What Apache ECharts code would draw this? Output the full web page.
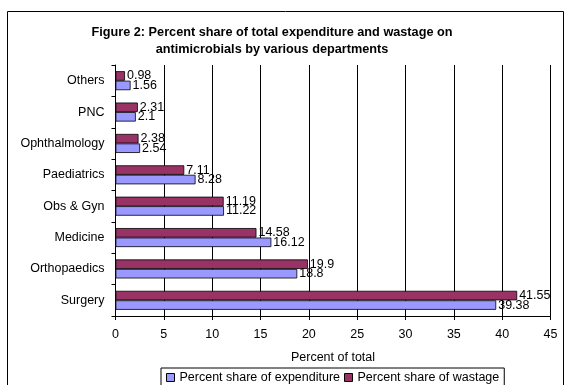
<!DOCTYPE html>
<html><head><meta charset="utf-8">
<script src="https://cdn.jsdelivr.net/npm/echarts@6/dist/echarts.min.js"></script>
<style>html,body{margin:0;padding:0;background:#fff}#c{width:566px;height:385px}</style>
</head><body><div id="c"></div>
<script>
const categories = ["Surgery","Orthopaedics","Medicine","Obs & Gyn","Paediatrics","Ophthalmology","PNC","Others"];
const expenditure = [39.38,18.8,16.12,11.22,8.28,2.54,2.1,1.56];
const wastage = [41.55,19.9,14.58,11.19,7.11,2.38,2.31,0.98];
const seriesNames = ["Percent share of expenditure","Percent share of wastage"];
const titleText = "Figure 2: Percent share of total expenditure and wastage on\nantimicrobials by various departments";
const xName = "Percent of total";

const chart = echarts.init(document.getElementById('c'), null, {renderer:'canvas'});
const font = 'Arial, "Liberation Sans", sans-serif';
const fs = 12.5;
chart.setOption({
  animation:false,
  graphic:[{type:'rect',shape:{x:7.5,y:11.5,width:556,height:380},style:{fill:'none',stroke:'#000',lineWidth:1}}],
  title:{text:titleText,left:267,textAlign:'center',top:19,textStyle:{fontFamily:font,fontSize:12.7,fontWeight:'bold',color:'#000',lineHeight:17}},
  legend:{top:368,left:161,itemWidth:8,itemHeight:8,itemGap:4,padding:[3,5,6,5],borderColor:'#000',borderWidth:1,
    textStyle:{fontFamily:font,fontSize:fs,color:'#000'},icon:'rect',
    data:seriesNames.map(n=>({name:n,itemStyle:{borderColor:'#000',borderWidth:1}}))},
  grid:{left:115.5,right:15.5,top:65,bottom:69,containLabel:false},
  xAxis:{type:'value',min:0,max:45,interval:5,name:xName,nameLocation:'middle',nameGap:35,
    nameTextStyle:{fontFamily:font,fontSize:fs,color:'#000'},
    axisLine:{show:true,lineStyle:{color:'#000'}},axisTick:{show:true,length:4,lineStyle:{color:'#000'}},
    axisLabel:{fontFamily:font,fontSize:fs,color:'#000',margin:12},
    splitLine:{show:true,lineStyle:{color:'#000',width:1}}},
  yAxis:{type:'category',data:categories,axisLine:{show:true,lineStyle:{color:'#000'}},
    axisTick:{show:true,length:4,lineStyle:{color:'#000'}},
    axisLabel:{fontFamily:font,fontSize:fs,color:'#000',margin:11}},
  series:[
    {name:seriesNames[1],type:'bar',data:wastage,barWidth:9.5,barGap:'0%',
      itemStyle:{color:'#993366',borderColor:'#000',borderWidth:0.8},
      label:{show:true,position:'right',distance:2,fontFamily:font,fontSize:fs,color:'#000'}},
    {name:seriesNames[0],type:'bar',data:expenditure,barWidth:9.5,barGap:'0%',
      itemStyle:{color:'#9999FF',borderColor:'#000',borderWidth:0.8},
      label:{show:true,position:'right',distance:2,fontFamily:font,fontSize:fs,color:'#000'}}
  ]
});
</script></body></html>
